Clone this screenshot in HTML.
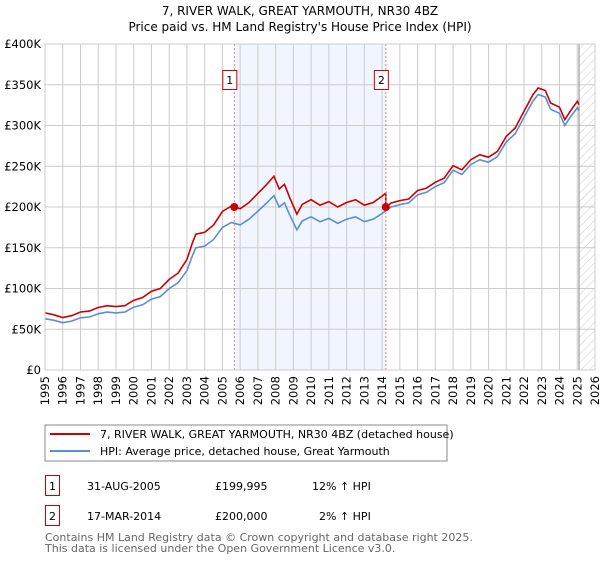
<!DOCTYPE html>
<html><head><meta charset="utf-8"><style>
body{margin:0;background:#fff;font-family:"DejaVu Sans","Liberation Sans",sans-serif;}
svg text{font-family:"DejaVu Sans","Liberation Sans",sans-serif;}
</style></head><body>
<svg id="chart" width="600" height="560" xmlns="http://www.w3.org/2000/svg">
<defs><pattern id="hatch" width="6" height="6" patternUnits="userSpaceOnUse" patternTransform="rotate(45)"><line x1="0" y1="0" x2="0" y2="6" stroke="#ccc" stroke-width="1"/></pattern></defs>
<text x="300" y="15" text-anchor="middle" font-size="12">7, RIVER WALK, GREAT YARMOUTH, NR30 4BZ</text>
<text x="300" y="31" text-anchor="middle" font-size="12">Price paid vs. HM Land Registry's House Price Index (HPI)</text>
<g id="grid"></g><g id="marks"></g><g id="axes"></g>
<rect x="45" y="425" width="402" height="36" fill="#fff" stroke="#888"/>
<line x1="50" y1="434" x2="90" y2="434" stroke="#cc0000" stroke-width="2"/>
<text x="100" y="438" font-size="11">7, RIVER WALK, GREAT YARMOUTH, NR30 4BZ (detached house)</text>
<line x1="50" y1="451" x2="90" y2="451" stroke="#5b8fd0" stroke-width="2"/>
<text x="100" y="455" font-size="11">HPI: Average price, detached house, Great Yarmouth</text>
<g font-size="11">
<rect x="45.5" y="475.5" width="14" height="20" fill="#fff" stroke="#cc0000"/><text x="49" y="490">1</text>
<text x="87" y="490">31-AUG-2005</text><text x="215" y="490">£199,995</text><text x="312" y="490">12% ↑ HPI</text></g>
<g font-size="11">
<rect x="45.5" y="505.5" width="14" height="20" fill="#fff" stroke="#cc0000"/><text x="49" y="520">2</text>
<text x="87" y="520">17-MAR-2014</text><text x="215" y="520">£200,000</text><text x="319" y="520">2% ↑ HPI</text></g>
<text x="45" y="541" font-size="11" fill="#666">Contains HM Land Registry data © Crown copyright and database right 2025.</text>
<text x="45" y="552" font-size="11" fill="#666">This data is licensed under the Open Government Licence v3.0.</text>
</svg>
<script>
const hpiYears=[1995,1995.5,1996,1996.5,1997,1997.5,1998,1998.5,1999,1999.5,2000,2000.5,2001,2001.5,2002,2002.5,2003,2003.3,2003.5,2004,2004.5,2005,2005.5,2006,2006.5,2007,2007.5,2007.9,2008.2,2008.5,2008.8,2009.2,2009.5,2010,2010.5,2011,2011.5,2012,2012.5,2013,2013.5,2014,2014.5,2015,2015.5,2016,2016.5,2017,2017.5,2018,2018.5,2019,2019.5,2020,2020.5,2021,2021.5,2022,2022.5,2022.8,2023.2,2023.5,2024,2024.3,2024.6,2025,2025.1];
const hpiValues=[63,61,58,60,64,65,69,71,70,71,77,80,87,90,100,107,122,140,150,152,160,175,181,178,185,195,205,214,200,205,190,172,183,188,182,186,180,185,188,182,185,192,200,203,205,215,218,225,230,245,240,252,258,255,262,280,290,310,330,338,335,320,315,300,310,322,318];
const saleYears=[2005.67,2014.21];
const salePrices=[199.995,200];
const yTicks=[0,50,100,150,200,250,300,350,400];
const yLabels=["£0","£50K","£100K","£150K","£200K","£250K","£300K","£350K","£400K"];
const xTicks=[1995,1996,1997,1998,1999,2000,2001,2002,2003,2004,2005,2006,2007,2008,2009,2010,2011,2012,2013,2014,2015,2016,2017,2018,2019,2020,2021,2022,2023,2024,2025,2026];
const NS="http://www.w3.org/2000/svg";
const X0=45,X1=595,Y0=370,Y1=44;
const x=v=>X0+(v-1995)/(2026-1995)*(X1-X0);
const y=v=>Y0-v/400*(Y0-Y1);
function mk(tag,attrs,parent){const e=document.createElementNS(NS,tag);for(const k in attrs)e.setAttribute(k,attrs[k]);parent.appendChild(e);return e;}
const grid=document.getElementById('grid'),marks=document.getElementById('marks'),axes=document.getElementById('axes');
function hpiAt(t){for(let i=1;i<hpiYears.length;i++){if(t<=hpiYears[i]){const f=(t-hpiYears[i-1])/(hpiYears[i]-hpiYears[i-1]);return hpiValues[i-1]+f*(hpiValues[i]-hpiValues[i-1]);}}return hpiValues[hpiValues.length-1];}
const shade=mk('rect',{x:x(saleYears[0]),y:Y1,width:x(saleYears[1])-x(saleYears[0]),height:Y0-Y1,fill:'#eef3fc',opacity:0.8},grid);


const lastY=hpiYears[hpiYears.length-1];
const hatch=mk('rect',{x:x(lastY),y:Y1,width:X1-x(lastY),height:Y0-Y1,fill:'url(#hatch)'},grid);


yTicks.forEach((t,i)=>{
 const l=mk('line',{x1:X0,x2:X1,y1:y(t),y2:y(t),stroke:'#ccc'},grid);
 
 
 const tx=mk('text',{x:X0-4,y:y(t)+4,'text-anchor':'end','font-size':'11.5'},axes);
 tx.textContent=yLabels[i];
 
 
});
xTicks.forEach(t=>{
 const l=mk('line',{x1:x(t),x2:x(t),y1:Y1,y2:Y0,stroke:'#ccc'},grid);
 
 
 const tx=mk('text',{x:0,y:0,'text-anchor':'end','font-size':'11.5',transform:`translate(${x(t)+4},${Y0+6}) rotate(-90)`},axes);
 tx.textContent=t;
 
 
});
const ed=mk('line',{x1:x(lastY),x2:x(lastY),y1:Y1,y2:Y0,stroke:'#888'},grid);


// property line: HPI indexed to the sale prices
const r1=salePrices[0]/hpiAt(saleYears[0]),r2=salePrices[1]/hpiAt(saleYears[1]);
const hp=hpiYears.map((t,i)=>`${x(t).toFixed(1)},${y(hpiValues[i]).toFixed(1)}`).join(' ');
const hl=mk('polyline',{points:hp,fill:'none',stroke:'#5b8fd0','stroke-width':1.6},marks);


const pp=[];
hpiYears.forEach((t,i)=>{if(t<saleYears[1])pp.push([t,hpiValues[i]*r1]);});
pp.push([saleYears[1],hpiAt(saleYears[1])*r1]);pp.push([saleYears[1],salePrices[1]]);
hpiYears.forEach((t,i)=>{if(t>saleYears[1])pp.push([t,hpiValues[i]*r2]);});
const pl=mk('polyline',{points:pp.map(p=>`${x(p[0]).toFixed(1)},${y(p[1]).toFixed(1)}`).join(' '),fill:'none',stroke:'#cc0000','stroke-width':1.6},marks);


saleYears.forEach((t,i)=>{
 const v=mk('line',{x1:x(t),x2:x(t),y1:Y1,y2:Y0,stroke:'#f08080','stroke-dasharray':'2,2'},marks);
 
 
 const c=mk('circle',{cx:x(t),cy:y(salePrices[i]),r:4,fill:'#cc0000'},marks);
 
 
 const g=mk('g',{},marks);
 
 
 mk('rect',{x:x(t)-11.5,y:70.5,width:14,height:19,fill:'#fff',stroke:'#cc0000'},g);
 const tx=mk('text',{x:x(t)-4.5,y:84,'text-anchor':'middle','font-size':'11'},g);tx.textContent=i+1;
});
const fr=mk('rect',{x:X0,y:Y1,width:X1-X0,height:Y0-Y1,fill:'none',stroke:'#ccc'},axes);


</script>
</body></html>
